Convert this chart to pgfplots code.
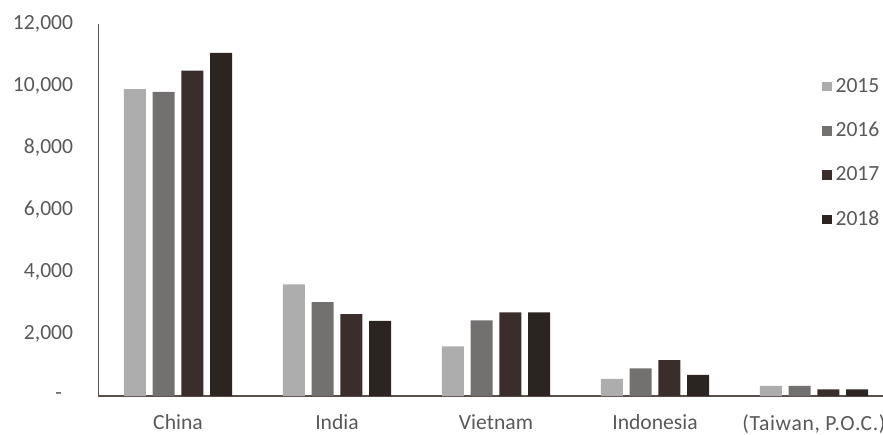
\documentclass[border=0pt]{standalone}
\usepackage{fontspec}
\setmainfont{Carlito}
\usepackage{pgfplots}
\pgfplotsset{compat=1.18}

\definecolor{c15}{HTML}{AEADAD}
\definecolor{c16}{HTML}{737070}
\definecolor{c17}{HTML}{3A2E2C}
\definecolor{c18}{HTML}{2C2421}
\definecolor{txt}{HTML}{595959}
\definecolor{axln}{HTML}{5A4F4D}

\pgfplotsset{
  legsq/.style={legend image code/.code={\fill[##1] (0pt,-2.3pt) rectangle (4.6pt,2.3pt);}}
}

\begin{document}
\fontsize{10.8}{13}\selectfont
\begin{tikzpicture}
\begin{axis}[
  at={(0,0)}, anchor=south west,
  scale only axis,
  width=397.5pt, height=186pt,
  xmin=-0.5, xmax=4.5,
  ymin=0, ymax=12000,
  scaled y ticks=false,
  axis x line*=bottom, axis y line*=left,
  axis line style={axln, line width=0.9pt},
  xtick={0,1,2,3,4},
  xticklabels={China, India, Vietnam, Indonesia, {\addfontfeatures{LetterSpace=3}(Taiwan, P.O.C.)}},
  ytick={0,2000,4000,6000,8000,10000,12000},
  yticklabels={{-\hspace*{5.5pt}}, {2,000}, {4,000}, {6,000}, {8,000}, {10,000}, {12,000}},
  major tick length=0pt,
  tick label style={text=txt, font=\fontsize{10.8}{13}\selectfont},
  yticklabel style={anchor=east, inner sep=0pt, xshift=-12.5pt},
  xticklabel style={anchor=north, inner sep=0pt, yshift=-9pt},
  ybar, bar width=0.138,
  legend style={at={(rel axis cs:0.9025,0.877)}, anchor=north west, draw=none, fill=none,
    text=txt, font=\fontsize{10.8}{13}\selectfont, row sep=9.3pt,
    /tikz/every even column/.append style={column sep=0pt}},
  legend cell align=left,
  clip=false,
]
\addplot[fill=c15, draw=none, bar shift=-0.271, legsq] coordinates {(0,9900) (1,3600) (2,1600) (3,550) (4,330)};
\addplot[fill=c16, draw=none, bar shift=-0.090, legsq] coordinates {(0,9810) (1,3030) (2,2440) (3,890) (4,330)};
\addplot[fill=c17, draw=none, bar shift=0.090, legsq] coordinates {(0,10500) (1,2640) (2,2700) (3,1160) (4,210)};
\addplot[fill=c18, draw=none, bar shift=0.271, legsq] coordinates {(0,11070) (1,2420) (2,2700) (3,680) (4,210)};
\legend{2015, 2016, 2017, 2018}
\end{axis}
\pgfresetboundingbox
\path[use as bounding box] (-49.25pt,-19pt) rectangle (392.25pt,198pt);
\end{tikzpicture}
\end{document}
